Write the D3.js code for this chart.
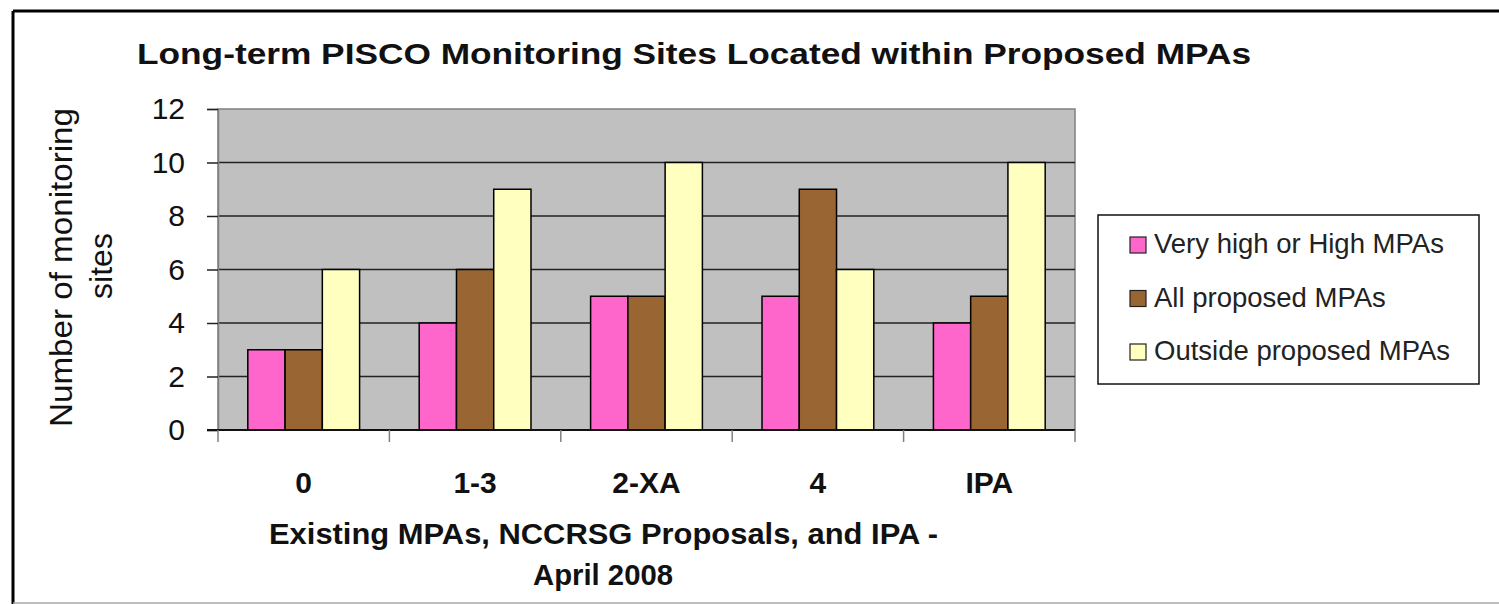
<!DOCTYPE html>
<head>
  <meta charset="utf-8">
  <style>
    body { margin: 0; background: #fff; }
    svg { display: block; font-family: "Liberation Sans", Arial, sans-serif; }
    .grid line { stroke: #222; stroke-width: 1.5px; }
    .bar { stroke: #000; stroke-width: 1.5px; }
  </style>
</head>
<body>
  <svg></svg>
  <script src="https://d3js.org/d3.v7.min.js"></script>
  <script>
  // values
  const categories = ["0", "1-3", "2-XA", "4", "IPA"];
  const seriesNames = ["Very high or High MPAs", "All proposed MPAs", "Outside proposed MPAs"];
  const veryHigh = [3, 4, 5, 5, 4];
  const allProposed = [3, 6, 5, 9, 5];
  const outside = [6, 9, 10, 6, 10];
  const yTicks = [0, 2, 4, 6, 8, 10, 12];
  const colors = ["#ff66cc", "#996633", "#ffffc0"];

  const width = 1499, height = 604;
  const svg = d3.select("svg").attr("width", width).attr("height", height);

  const plot = {left: 218, right: 1075, top: 109, bottom: 430};

  const x = d3.scaleBand().domain(categories).range([plot.left, plot.right]);
  const x1 = d3.scaleBand().domain(seriesNames).range([0, x.bandwidth()]).paddingOuter(0.8);
  const y = d3.scaleLinear().domain([0, 12]).range([plot.bottom, plot.top]);

  const rows = categories.map(function(c, i) {
    return {cat: c, values: [veryHigh[i], allProposed[i], outside[i]]};
  });

  // outer frame
  svg.append("line").attr("x1", 13).attr("y1", 11).attr("x2", 13).attr("y2", height)
    .attr("stroke", "#000").attr("stroke-width", 3);
  svg.append("line").attr("x1", 13).attr("y1", 11).attr("x2", width).attr("y2", 11)
    .attr("stroke", "#000").attr("stroke-width", 3);
  svg.append("line").attr("x1", 13).attr("y1", 603).attr("x2", width).attr("y2", 603)
    .attr("stroke", "#aaa").attr("stroke-width", 1.5);

  // plot area
  svg.append("rect")
    .attr("x", plot.left).attr("y", plot.top)
    .attr("width", plot.right - plot.left).attr("height", plot.bottom - plot.top)
    .attr("fill", "#c0c0c0").attr("stroke", "#808080").attr("stroke-width", 1.5);

  svg.append("g").classed("grid", true)
    .selectAll("line")
    .data(yTicks.filter(function(d) { return d > 0 && d < 12; }))
    .enter().append("line")
      .attr("x1", plot.left).attr("x2", plot.right)
      .attr("y1", function(d) { return y(d); }).attr("y2", function(d) { return y(d); });

  // bars
  const group = svg.append("g").selectAll("g")
    .data(rows)
    .enter().append("g")
      .attr("transform", function(d) { return "translate(" + x(d.cat) + ",0)"; });

  group.selectAll("rect")
    .data(function(d) { return d.values.map(function(v, j) { return {name: seriesNames[j], value: v, j: j}; }); })
    .enter().append("rect")
      .classed("bar", true)
      .attr("x", function(d) { return x1(d.name); })
      .attr("width", x1.bandwidth())
      .attr("y", function(d) { return y(d.value); })
      .attr("height", function(d) { return y(0) - y(d.value); })
      .attr("fill", function(d) { return colors[d.j]; });

  // y axis
  const yAxis = svg.append("g")
    .attr("transform", "translate(" + plot.left + ",0)")
    .call(d3.axisLeft(y).tickValues(yTicks).tickSize(11).tickPadding(22));
  yAxis.select(".domain").attr("stroke", "#808080").attr("stroke-width", 1.5);
  yAxis.selectAll(".tick line").attr("stroke", "#222").attr("stroke-width", 1.5);
  yAxis.selectAll(".tick text")
    .attr("font-size", 30).attr("fill", "#111")
    .attr("font-family", "Liberation Sans, Arial, sans-serif");

  // x axis line and boundary ticks
  svg.append("line")
    .attr("x1", plot.left - 11).attr("x2", plot.right)
    .attr("y1", plot.bottom).attr("y2", plot.bottom)
    .attr("stroke", "#111").attr("stroke-width", 2);

  const bounds = categories.map(function(c) { return x(c); }).concat([plot.right]);
  svg.append("g").selectAll("line")
    .data(bounds)
    .enter().append("line")
      .attr("x1", function(d) { return d; }).attr("x2", function(d) { return d; })
      .attr("y1", plot.bottom).attr("y2", plot.bottom + 12)
      .attr("stroke", "#808080").attr("stroke-width", 1.5);

  const xAxis = svg.append("g")
    .attr("transform", "translate(0," + plot.bottom + ")")
    .call(d3.axisBottom(x).tickSize(0).tickPadding(0));
  xAxis.select(".domain").remove();
  xAxis.selectAll(".tick text")
    .attr("dy", null).attr("y", 63)
    .attr("font-size", 30).attr("font-weight", "bold").attr("fill", "#111")
    .attr("font-family", "Liberation Sans, Arial, sans-serif");

  // title
  svg.append("text")
    .attr("x", 694).attr("y", 64)
    .attr("text-anchor", "middle")
    .attr("font-size", 30).attr("font-weight", "bold").attr("fill", "#111")
    .attr("textLength", 1114).attr("lengthAdjust", "spacingAndGlyphs")
    .text("Long-term PISCO Monitoring Sites Located within Proposed MPAs");

  // axis titles
  const xt = svg.append("g")
    .attr("font-size", 29).attr("font-weight", "bold").attr("fill", "#111");
  xt.append("text").attr("x", 269).attr("y", 544)
    .attr("textLength", 669).attr("lengthAdjust", "spacingAndGlyphs")
    .text("Existing MPAs, NCCRSG Proposals, and IPA -");
  xt.append("text").attr("x", 533).attr("y", 585)
    .attr("textLength", 140).attr("lengthAdjust", "spacingAndGlyphs")
    .text("April 2008");

  const yt = svg.append("g")
    .attr("font-size", 32).attr("fill", "#111");
  yt.append("text").attr("transform", "rotate(-90)")
    .attr("x", -427).attr("y", 72)
    .attr("textLength", 319).attr("lengthAdjust", "spacingAndGlyphs")
    .text("Number of monitoring");
  yt.append("text").attr("transform", "rotate(-90)")
    .attr("text-anchor", "middle")
    .attr("x", -266).attr("y", 112).text("sites");

  // legend
  const legend = svg.append("g");
  legend.append("rect")
    .attr("x", 1098).attr("y", 215).attr("width", 381).attr("height", 169)
    .attr("fill", "#fff").attr("stroke", "#111").attr("stroke-width", 1.5);

  const item = legend.selectAll(".item")
    .data(seriesNames)
    .enter().append("g").classed("item", true)
    .attr("transform", function(d, i) { return "translate(0," + (245 + i * 53.5) + ")"; });
  item.append("rect")
    .attr("x", 1130).attr("y", -8).attr("width", 16).attr("height", 16)
    .attr("fill", function(d, i) { return colors[i]; })
    .attr("stroke", "#222").attr("stroke-width", 1.2);
  item.append("text")
    .attr("x", 1154).attr("y", 8)
    .attr("font-size", 27.5).attr("fill", "#222")
    .text(function(d) { return d; });
  </script>
</body>
